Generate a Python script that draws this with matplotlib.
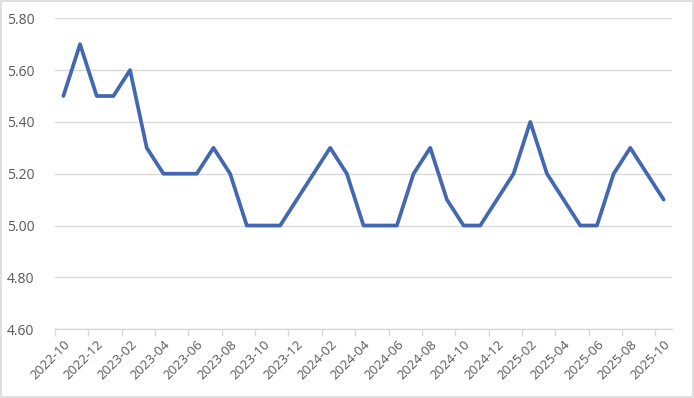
import matplotlib
matplotlib.use("Agg")
import matplotlib.pyplot as plt
from matplotlib.patches import Rectangle

months = ["2022-10","2022-11","2022-12","2023-01","2023-02","2023-03","2023-04","2023-05",
          "2023-06","2023-07","2023-08","2023-09","2023-10","2023-11","2023-12","2024-01",
          "2024-02","2024-03","2024-04","2024-05","2024-06","2024-07","2024-08","2024-09",
          "2024-10","2024-11","2024-12","2025-01","2025-02","2025-03","2025-04","2025-05",
          "2025-06","2025-07","2025-08","2025-09","2025-10"]
values = [5.50,5.70,5.50,5.50,5.60,5.30,5.20,5.20,
          5.20,5.30,5.20,5.00,5.00,5.00,5.10,5.20,
          5.30,5.20,5.00,5.00,5.00,5.20,5.30,5.10,
          5.00,5.00,5.10,5.20,5.40,5.20,5.10,5.00,
          5.00,5.20,5.30,5.20,5.10]
y_ticks = [4.60,4.80,5.00,5.20,5.40,5.60,5.80]

plt.rcParams['font.family'] = ['Open Sans', 'DejaVu Sans']

fig = plt.figure(figsize=(6.94, 3.98), dpi=100)
ax = fig.add_axes([0.0793, 0.173, 0.8890, 0.781])

x = list(range(len(months)))
ax.plot(x, values, color='#4468B0', lw=2.7, solid_joinstyle='round',
        solid_capstyle='round', zorder=3)

ax.set_xlim(-0.5, len(months) - 0.5)
ax.set_ylim(4.60, 5.80)
ax.set_yticks(y_ticks)
ax.set_yticklabels([f"{v:.2f}" for v in y_ticks])
ax.yaxis.grid(True, color='#D9D9D9', lw=1.0)
ax.set_axisbelow(True)

# x ticks: labels at every second category center, tick marks at boundaries
ax.set_xticks(x[::2])
ax.set_xticklabels(months[::2], rotation=45, ha='right', rotation_mode='anchor')
ax.tick_params(axis='x', length=0, pad=6, labelsize=9.5, labelcolor='#595959')
ax.set_xticks([i - 0.5 for i in x[::2]], minor=True)
ax.tick_params(axis='x', which='minor', length=5, color='#D9D9D9', width=1)
ax.tick_params(axis='y', length=0, pad=15, labelsize=10, labelcolor='#595959')

for s in ['top', 'right', 'left']:
    ax.spines[s].set_visible(False)
ax.spines['bottom'].set_color('#D9D9D9')
ax.spines['bottom'].set_linewidth(1)

fig.patches.append(Rectangle((0.0015, 0.0025), 0.997, 0.995, transform=fig.transFigure,
                             fill=False, edgecolor='#D9D9D9', lw=1.2))

fig.savefig('out.png', dpi=100)
